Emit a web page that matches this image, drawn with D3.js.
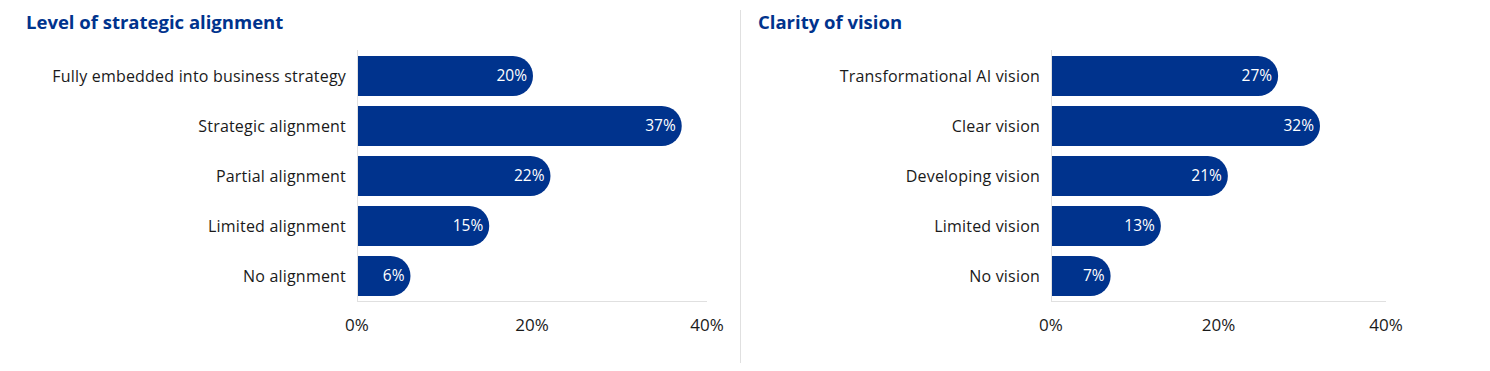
<!DOCTYPE html>
<html>
<head>
<meta charset="utf-8">
<script src="https://cdn.jsdelivr.net/npm/d3@7"></script>
<style>
  body { margin: 0; background: #fff; }
  svg { display: block; font-family: "Open Sans", sans-serif; }
</style>
</head>
<body>
<svg id="chart" width="1490" height="371"></svg>
<script>
// data
const alignCategories = ['Fully embedded into business strategy', 'Strategic alignment', 'Partial alignment', 'Limited alignment', 'No alignment'];
const alignValues = [20, 37, 22, 15, 6];
const visionCategories = ['Transformational AI vision', 'Clear vision', 'Developing vision', 'Limited vision', 'No vision'];
const visionValues = [27, 32, 21, 13, 7];
const tickValues = [0, 20, 40];

const colors = {
  bar: '#00338D',
  title: '#00338D',
  text: '#1a1a1a',
  axis: '#e0e0e0'
};

const svg = d3.select('#chart');

// separator between the panels
svg.append('line')
  .attr('x1', 740.5).attr('x2', 740.5)
  .attr('y1', 10).attr('y2', 363)
  .attr('stroke', colors.axis);

const drawPanel = (opts) => {
  const { title, titleX, categories, values, x0, x1 } = opts;
  const g = svg.append('g');

  g.append('text')
    .attr('x', titleX).attr('y', 29)
    .attr('fill', colors.title)
    .attr('font-size', 18.5)
    .attr('font-weight', 700)
    .text(title);

  const x = d3.scaleLinear().domain([0, 40]).range([x0, x1]);
  const y = d3.scaleBand().domain(categories).range([51, 301]).paddingInner(0.2).paddingOuter(0.1);

  // axis lines
  g.append('line')
    .attr('x1', x0 + 0.5).attr('x2', x0 + 0.5)
    .attr('y1', 50).attr('y2', 301)
    .attr('stroke', colors.axis);
  g.append('line')
    .attr('x1', x0).attr('x2', x1)
    .attr('y1', 301.5).attr('y2', 301.5)
    .attr('stroke', colors.axis);

  // bars: square left end, round right end (shifted 1px off the axis line)
  const bh = y.bandwidth();
  const r = bh / 2;
  g.selectAll('path.bar')
    .data(values)
    .join('path')
    .attr('class', 'bar')
    .attr('fill', colors.bar)
    .attr('d', (d, i) => {
      const left = x(0) + 1;
      const right = x(d) + 1;
      const top = y(categories[i]);
      return `M${left},${top}H${right - r}A${r},${r} 0 0 1 ${right - r},${top + bh}H${left}Z`;
    });

  // value labels
  g.selectAll('text.val')
    .data(values)
    .join('text')
    .attr('class', 'val')
    .attr('x', d => x(d) - 5)
    .attr('y', (d, i) => y(categories[i]) + bh / 2)
    .attr('dy', '0.35em')
    .attr('text-anchor', 'end')
    .attr('fill', '#fff')
    .attr('font-size', 15.5)
    .text(d => d + '%');

  // category labels
  g.selectAll('text.cat')
    .data(categories)
    .join('text')
    .attr('class', 'cat')
    .attr('x', x0 - 11)
    .attr('y', d => y(d) + bh / 2)
    .attr('dy', '0.35em')
    .attr('text-anchor', 'end')
    .attr('fill', colors.text)
    .attr('font-size', 16)
    .attr('letter-spacing', 0.2)
    .text(d => d);

  // tick labels
  g.selectAll('text.tick')
    .data(tickValues)
    .join('text')
    .attr('class', 'tick')
    .attr('x', d => x(d))
    .attr('y', 331)
    .attr('text-anchor', 'middle')
    .attr('fill', colors.text)
    .attr('font-size', 17)
    .text(d => d + '%');
};

drawPanel({
  title: 'Level of strategic alignment',
  titleX: 26,
  categories: alignCategories,
  values: alignValues,
  x0: 357,
  x1: 707
});

drawPanel({
  title: 'Clarity of vision',
  titleX: 758,
  categories: visionCategories,
  values: visionValues,
  x0: 1051,
  x1: 1386
});
</script>
</body>
</html>
